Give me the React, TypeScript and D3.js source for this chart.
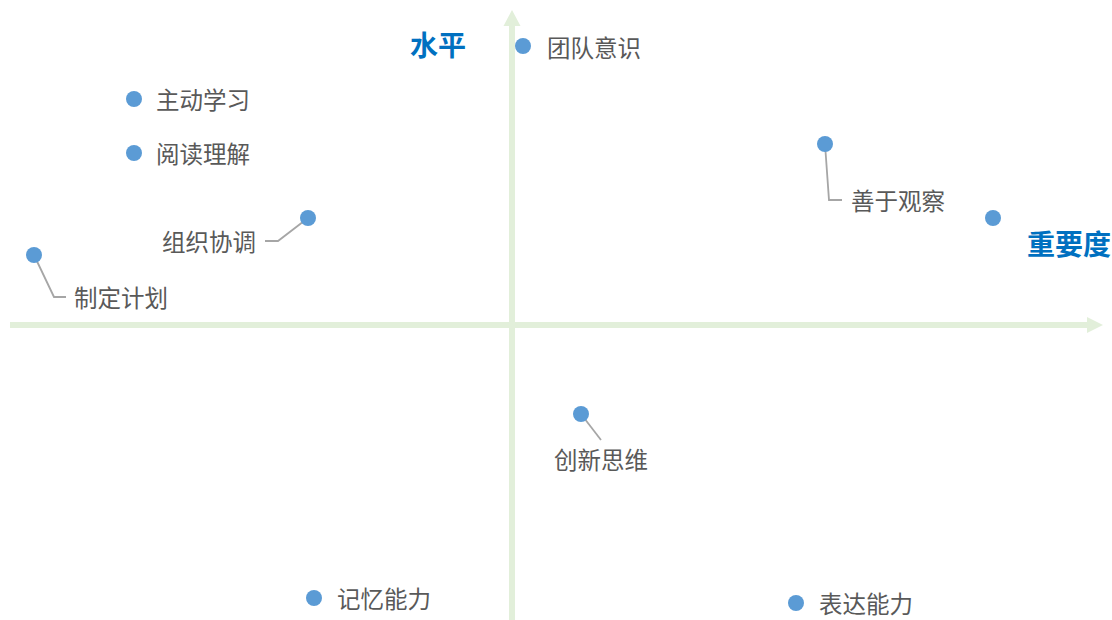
import React from "react";
import * as d3 from "d3";

// ---- data ----
const skills = ["团队意识", "主动学习", "阅读理解", "组织协调", "制定计划", "善于观察", "", "创新思维", "记忆能力", "表达能力"];
const importance = [0.11, -3.78, -3.78, -2.04, -4.78, 3.13, 4.81, 0.69, -1.98, 2.84];
const level = [2.79, 2.26, 1.72, 1.07, 0.70, 1.81, 1.07, -0.89, -2.73, -2.78];
const axisTitles = { x: "重要度", y: "水平" };

// ---- label layout (offsets from each point) ----
type Lay = { dx: number; dy: number; anchor: string; leader?: [number, number][] };
const layout: Lay[] = [
  { dx: 24, dy: 1, anchor: "start" },
  { dx: 22, dy: 0, anchor: "start" },
  { dx: 22, dy: 0, anchor: "start" },
  { dx: -52, dy: 23, anchor: "end", leader: [[-30, 23], [-43, 23]] },
  { dx: 40, dy: 42, anchor: "start", leader: [[20, 42], [32, 42]] },
  { dx: 26, dy: 56, anchor: "start", leader: [[4, 56], [17, 56]] },
  { dx: 0, dy: 0, anchor: "start" },
  { dx: -27, dy: 45, anchor: "start", leader: [[20, 26]] },
  { dx: 23, dy: 0, anchor: "start" },
  { dx: 23, dy: 0, anchor: "start" },
];

const W = 1112;
const H = 620;

export default function App() {
  const x = d3.scaleLinear().domain([-5, 5]).range([12, 1012]);
  const y = d3.scaleLinear().domain([-3, 3]).range([625, 25]);
  const ox = x(0);
  const oy = y(0);
  const axisColor = "#e2efda";
  const line = d3.line<[number, number]>();
  const font = "'Noto Sans CJK SC', 'Noto Sans', sans-serif";

  return (
    <div style={{ position: "absolute", left: 0, top: 0 }}>
      <svg width={W} height={H} style={{ display: "block", background: "#fff" }}>
        {/* axes */}
        <line x1={10} y1={oy} x2={1090} y2={oy} stroke={axisColor} strokeWidth={6} />
        <path d={`M${1087},${oy - 8}L${1103},${oy}L${1087},${oy + 8}Z`} fill={axisColor} />
        <line x1={ox} y1={620} x2={ox} y2={23} stroke={axisColor} strokeWidth={6} />
        <path d={`M${ox - 8.5},${26}L${ox},${10}L${ox + 8.5},${26}Z`} fill={axisColor} />

        {/* axis titles */}
        <text x={1111} y={243} textAnchor="end" dominantBaseline="central" fill="#0070c0"
          fontSize={28} fontWeight="bold" fontFamily={font}>{axisTitles.x}</text>
        <text x={466} y={44} textAnchor="end" dominantBaseline="central" fill="#0070c0"
          fontSize={28} fontWeight="bold" fontFamily={font}>{axisTitles.y}</text>

        {/* leaders */}
        {skills.map((s, i) => {
          const l = layout[i];
          if (!l.leader) return null;
          const px = x(importance[i]);
          const py = y(level[i]);
          const pts: [number, number][] = [[px, py], ...l.leader.map(([a, b]) => [px + a, py + b] as [number, number])];
          return <path key={"l" + i} d={line(pts) || ""} fill="none" stroke="#a6a6a6" strokeWidth={1.8} />;
        })}

        {/* points */}
        {skills.map((s, i) => (
          <circle key={"c" + i} cx={x(importance[i])} cy={y(level[i])} r={8} fill="#5b9bd5" />
        ))}

        {/* labels */}
        {skills.map((s, i) => {
          const l = layout[i];
          if (!s) return null;
          return (
            <text key={"t" + i} x={x(importance[i]) + l.dx} y={y(level[i]) + l.dy}
              textAnchor={l.anchor} dominantBaseline="central" fill="#595959"
              fontSize={23.5} fontFamily={font}>{s}</text>
          );
        })}
      </svg>
    </div>
  );
}
